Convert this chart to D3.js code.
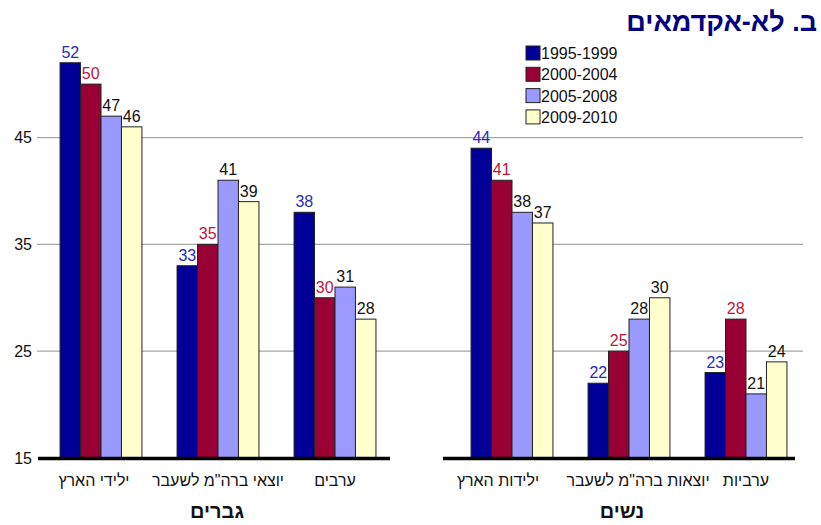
<!DOCTYPE html>
<html>
<head>
<meta charset="utf-8">
<script src="https://cdn.jsdelivr.net/npm/d3@7"></script>
<style>
  body { margin: 0; background: #fff; }
  svg text { font-family: "Liberation Sans", Arial, "DejaVu Sans", sans-serif; }
</style>
</head>
<body>
<div id="chart"></div>
<script>

// data
var series = ["1995-1999", "2000-2004", "2005-2008", "2009-2010"];
var menGroups = ["ילידי הארץ", "יוצאי ברה\"מ לשעבר", "ערבים"];
var womenGroups = ["ילידות הארץ", "יוצאות ברה\"מ לשעבר", "ערביות"];
var menValues = [[52, 50, 47, 46], [33, 35, 41, 39], [38, 30, 31, 28]];
var womenValues = [[44, 41, 38, 37], [22, 25, 28, 30], [23, 28, 21, 24]];
var yTicks = [15, 25, 35, 45];
var gridTicks = [25, 35, 45];

var barColors = ["#000099", "#990033", "#9999ff", "#ffffcc"];
var labelColors = ["#2a2ab8", "#c0143c", "#111", "#111"];

var svgWidth = 821;
var svgHeight = 525;

var svg = d3.select("#chart")
    .append("svg")
    .attr("width", svgWidth)
    .attr("height", svgHeight);

// one value scale shared by both panels
var yScale = d3.scaleLinear()
    .domain([15, 55])
    .range([458, 30.7]);

//gridlines run across both panels
svg.append("g")
    .selectAll("line")
    .data(gridTicks)
    .enter().append("line")
    .attr("x1", 37)
    .attr("x2", 803)
    .attr("y1", d => yScale(d))
    .attr("y2", d => yScale(d))
    .attr("stroke", "#a6a6a6")
    .attr("stroke-width", 1.3);

//y labels on the left only
var yAxis = d3.axisLeft(yScale).tickValues(yTicks).tickSize(0).tickPadding(5);
var yg = svg.append("g")
    .attr("transform", "translate(37,0)")
    .call(yAxis);
yg.select(".domain").remove();
yg.selectAll("text")
    .attr("font-size", "16px")
    .attr("fill", "#111")
    .style("font-family", "'Liberation Sans', Arial, sans-serif");

function makePanel(groups, values, rangeX, baseX, title, nudge) {

    var x0 = d3.scaleBand()
        .domain(groups)
        .range(rangeX)
        .paddingInner(0.3)
        .paddingOuter(0.15);

    var x1 = d3.scaleBand()
        .domain(series)
        .range([0, x0.bandwidth()]);

    var rows = [];
    groups.forEach(function(g, i) {
        series.forEach(function(s, j) {
            rows.push({group: g, s: s, j: j, v: values[i][j]});
        });
    });

    var panel = svg.append("g");

    panel.selectAll("rect")
        .data(rows)
        .enter().append("rect")
        .attr("x", d => x0(d.group) + x1(d.s))
        .attr("y", d => yScale(d.v))
        .attr("width", x1.bandwidth())
        .attr("height", d => yScale(15) - yScale(d.v))
        .attr("fill", d => barColors[d.j])
        .attr("stroke", "#222")
        .attr("stroke-width", 1);

    panel.selectAll(".val")
        .data(rows)
        .enter().append("text")
        .attr("class", "val")
        .attr("x", d => x0(d.group) + x1(d.s) + x1.bandwidth() / 2)
        .attr("y", d => yScale(d.v) - 5)
        .attr("text-anchor", "middle")
        .attr("font-size", "16px")
        .attr("fill", d => labelColors[d.j])
        .text(d => d.v);

    //thick baseline
    panel.append("line")
        .attr("x1", baseX[0])
        .attr("x2", baseX[1])
        .attr("y1", yScale(15) + 0.5)
        .attr("y2", yScale(15) + 0.5)
        .attr("stroke", "#000")
        .attr("stroke-width", 3.5);

    // category names (the source nudges a couple of them sideways)
    panel.selectAll(".cat")
        .data(groups)
        .enter().append("text")
        .attr("class", "cat")
        .attr("x", (d, i) => x0(d) + x0.bandwidth() / 2 + nudge[i])
        .attr("y", 486)
        .attr("text-anchor", "middle")
        .attr("font-size", "16px")
        .attr("fill", "#111")
        .text(d => d);

    panel.append("text")
        .attr("x", (baseX[0] + baseX[1]) / 2 + 3)
        .attr("y", 518)
        .attr("text-anchor", "middle")
        .attr("font-size", "20px")
        .attr("font-weight", "bold")
        .attr("fill", "#111")
        .text(title);
}

makePanel(menGroups, menValues, [42.5, 393.5], [38, 390], "גברים", [-7, 0, 0]);
makePanel(womenGroups, womenValues, [453.5, 804.5], [443, 795], "נשים", [-14, 9, 0]);

//legend
var legend = svg.append("g").attr("transform", "translate(526,46)");
var items = legend.selectAll("g")
    .data(series)
    .enter().append("g")
    .attr("transform", (d, i) => `translate(0, ${i * 21.3})`);
items.append("rect")
    .attr("width", 14)
    .attr("height", 14)
    .attr("fill", (d, i) => barColors[i])
    .attr("stroke", "#222");
items.append("text")
    .attr("x", 15)
    .attr("y", 13)
    .attr("font-size", "16px")
    .attr("fill", "#111")
    .text(d => d);

//title
svg.append("text")
    .attr("x", 817)
    .attr("y", 31)
    .attr("text-anchor", "end")
    .attr("font-size", "27px")
    .attr("font-weight", "bold")
    .attr("fill", "#000080")
    .text("ב. לא-אקדמאים");

</script>
</body>
</html>
